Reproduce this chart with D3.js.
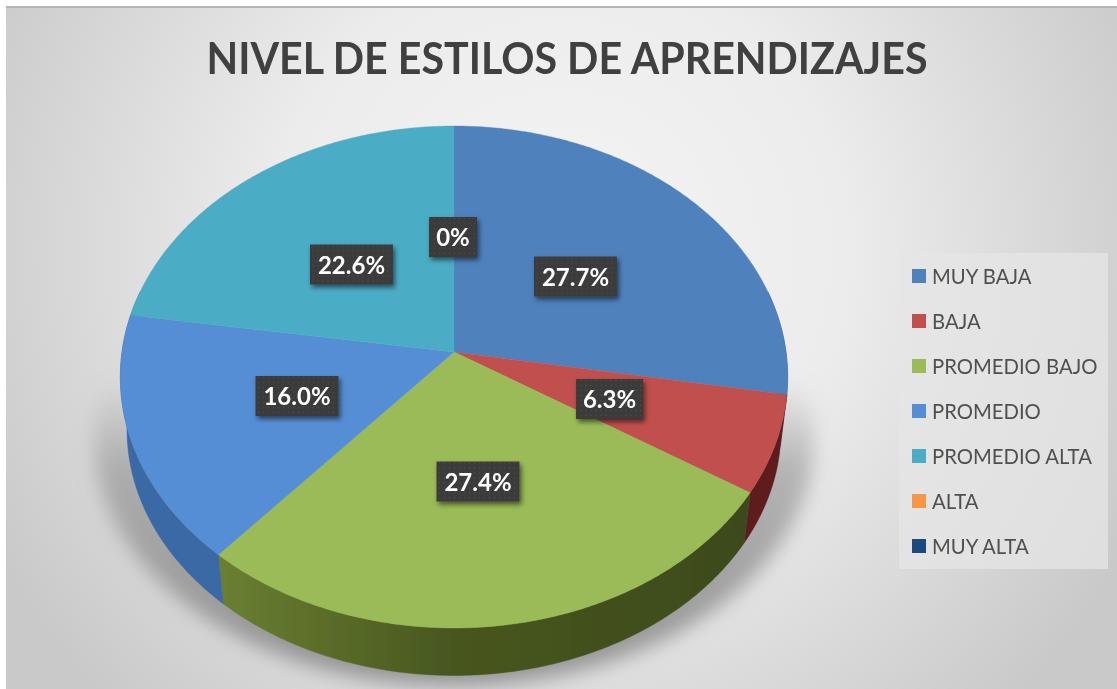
<!DOCTYPE html>
<html lang="en">
<head>
<meta charset="utf-8">
<title>Nivel de estilos de aprendizajes</title>
<script src="https://d3js.org/d3.v7.min.js"></script>
<style>
html, body { margin: 0; padding: 0; background: #fff; overflow: hidden; }
text { font-family: Lato, "Open Sans", "Noto Sans", sans-serif; }
</style>
</head>
<body>
<script>
var categories = ["MUY BAJA", "BAJA", "PROMEDIO BAJO", "PROMEDIO", "PROMEDIO ALTA", "ALTA", "MUY ALTA"];
var values = [27.7, 6.3, 27.4, 16.0, 22.6, 0, 0];
var labels = ["27.7%", "6.3%", "27.4%", "16.0%", "22.6%", "0%"];
var colors = ["#4f81bd", "#c0504d", "#9bbb59", "#558ed5", "#4bacc6", "#f79646", "#1f497d"];
var wallColors = ["#3a6397", "#5e1a1a", "#4a5a26", "#3a69a6", "#2f7f95", "#b36a2a", "#14315a"];

var width = 1117, height = 689;
var cx = 454, cy = 352;

var svg = d3.select("body").append("svg")
    .attr("width", width).attr("height", height);
var defs = svg.append("defs");

// panel background
var bg = defs.append("radialGradient").attr("id", "bg")
    .attr("gradientUnits", "userSpaceOnUse")
    .attr("cx", 560).attr("cy", 250).attr("r", 640);
bg.append("stop").attr("offset", "0").attr("stop-color", "#f4f4f4");
bg.append("stop").attr("offset", "0.45").attr("stop-color", "#ececec");
bg.append("stop").attr("offset", "1").attr("stop-color", "#c9c9c9");

defs.append("filter").attr("id", "soft")
    .attr("filterUnits", "userSpaceOnUse")
    .attr("x", 0).attr("y", 0).attr("width", width).attr("height", height)
    .append("feGaussianBlur").attr("stdDeviation", 0.45);

defs.append("filter").attr("id", "blurShadow")
    .attr("x", "-20%").attr("y", "-20%").attr("width", "140%").attr("height", "140%")
    .append("feGaussianBlur").attr("stdDeviation", 10);

var boxShadow = defs.append("filter").attr("id", "boxShadow")
    .attr("x", "-30%").attr("y", "-30%").attr("width", "160%").attr("height", "170%");
boxShadow.append("feDropShadow").attr("dx", 2).attr("dy", 3)
    .attr("stdDeviation", 2.5).attr("flood-color", "#000").attr("flood-opacity", 0.55);

var dots = defs.append("pattern").attr("id", "dots").attr("patternUnits", "userSpaceOnUse")
    .attr("width", 5).attr("height", 5);
dots.append("rect").attr("width", 5).attr("height", 5).attr("fill", "#3b3b3b");
dots.append("circle").attr("cx", 1.5).attr("cy", 1.5).attr("r", 0.7).attr("fill", "#4a4a4a");

var shadowFade = defs.append("linearGradient").attr("id", "shadowFade")
    .attr("gradientUnits", "userSpaceOnUse")
    .attr("x1", 0).attr("y1", 380).attr("x2", 0).attr("y2", 680);
shadowFade.append("stop").attr("offset", "0").attr("stop-color", "#909090").attr("stop-opacity", 0);
shadowFade.append("stop").attr("offset", "0.3").attr("stop-color", "#909090").attr("stop-opacity", 0.6);
shadowFade.append("stop").attr("offset", "1").attr("stop-color", "#848484").attr("stop-opacity", 0.85);

var frontGreen = defs.append("linearGradient").attr("id", "wall2")
    .attr("gradientUnits", "userSpaceOnUse")
    .attr("x1", 218).attr("y1", 0).attr("x2", 750).attr("y2", 0);
frontGreen.append("stop").attr("offset", "0").attr("stop-color", "#6b7f32");
frontGreen.append("stop").attr("offset", "0.45").attr("stop-color", "#47561f");
frontGreen.append("stop").attr("offset", "1").attr("stop-color", "#3d4a1d");

var root = svg.append("g").attr("filter", "url(#soft)");

root.append("rect").attr("width", width).attr("height", height).attr("fill", "#fff");
root.append("rect").attr("x", 6).attr("y", 7).attr("width", width - 6).attr("height", height - 7)
    .attr("fill", "url(#bg)");
root.append("rect").attr("x", 6).attr("y", 6).attr("width", width - 6).attr("height", 2)
    .attr("fill", "#b5b5b5");

// title
root.append("text").attr("x", 567).attr("y", 74)
    .attr("text-anchor", "middle")
    .attr("font-size", 44).attr("font-weight", 700)
    .attr("fill", "#404040")
    .attr("textLength", 721).attr("lengthAdjust", "spacingAndGlyphs")
    .text("NIVEL DE ESTILOS DE APRENDIZAJES");

// perspective: pie angle -> point on the tilted disc
var k = 0.0996, rx = 332, ry = 248.5;
var sx = d3.scaleLinear().domain([-1, 1]).range([-rx, rx]);
var sy = d3.scaleLinear().domain([-1, 1]).range([-ry, ry]);

function topPoint(a, r) {
    var u = r * Math.sin(a), v = -r * Math.cos(a), d = 1 - k * v;
    return [cx + sx(u) / d, cy + sy(v) / d];
}
var bottomScale = 0.98, bottomDrop = 53;
function bottomPoint(a) {
    var p = topPoint(a, 1);
    return [cx + (p[0] - cx) * bottomScale, cy + bottomDrop + (p[1] - cy) * bottomScale];
}

var pie = d3.pie().sort(null).value(function (d) { return d; });
var arcs = pie(values);
var line = d3.line();

function samples(a0, a1) {
    var n = Math.max(2, Math.ceil(Math.abs(a1 - a0) / 0.01));
    return d3.range(n + 1).map(function (i) { return a0 + (a1 - a0) * i / n; });
}

// ground shadow
root.append("path")
    .attr("d", line(samples(0, 2 * Math.PI).map(function (a) {
        var p = bottomPoint(a);
        return [cx + (p[0] - cx) * 1.1, p[1] + 10];
    })) + "Z")
    .attr("fill", "url(#shadowFade)")
    .attr("filter", "url(#blurShadow)");

// side wall, only where the rim faces the viewer
arcs.forEach(function (d, i) {
    var a0 = Math.max(d.startAngle, 1.32), a1 = Math.min(d.endAngle, 2 * Math.PI - 1.32);
    if (a1 <= a0) return;
    var as = samples(a0, a1);
    var pts = as.map(function (a) { return topPoint(a, 1); })
        .concat(as.slice().reverse().map(bottomPoint));
    root.append("path").attr("d", line(pts) + "Z")
        .attr("fill", i === 2 ? "url(#wall2)" : wallColors[i])
        .attr("stroke", i === 2 ? "url(#wall2)" : wallColors[i]).attr("stroke-width", 0.5);
});

// top face
arcs.forEach(function (d, i) {
    if (d.endAngle === d.startAngle) return;
    var pts = [[cx, cy]].concat(samples(d.startAngle, d.endAngle).map(function (a) { return topPoint(a, 1); }));
    root.append("path").attr("d", line(pts) + "Z")
        .attr("fill", colors[i]).attr("stroke", colors[i]).attr("stroke-width", 0.4);
});

// data labels
var labelPos = [[575.5, 276.5], [609.5, 399], [478, 481.5], [297, 396], [351.5, 264.5], [453, 237]];
var labelW = [83, 67, 83, 83, 83, 48];
labels.forEach(function (t, i) {
    var g = root.append("g").attr("transform", "translate(" + labelPos[i][0] + "," + labelPos[i][1] + ")");
    g.append("rect").attr("x", -labelW[i] / 2).attr("y", -20)
        .attr("width", labelW[i]).attr("height", 40)
        .attr("fill", "url(#dots)").attr("filter", "url(#boxShadow)");
    g.append("text").attr("text-anchor", "middle").attr("y", 9)
        .attr("font-size", 24).attr("font-weight", 700).attr("fill", "#fff")
        .text(t);
});

// legend
root.append("rect").attr("x", 899).attr("y", 253).attr("width", 209).attr("height", 316)
    .attr("fill", "#e6e6e6").attr("fill-opacity", 0.75);
var legendY = d3.scalePoint().domain(categories).range([276, 546]);
var legend = root.selectAll("g.legend").data(categories).enter().append("g")
    .attr("class", "legend")
    .attr("transform", function (d) { return "translate(912," + legendY(d) + ")"; });
legend.append("rect").attr("x", 0).attr("y", -7).attr("width", 14).attr("height", 14)
    .attr("fill", function (d, i) { return colors[i]; });
legend.append("text").attr("x", 20).attr("y", 7.5)
    .attr("font-size", 20.3).attr("fill", "#505050")
    .text(function (d) { return d; });
</script>
</body>
</html>
